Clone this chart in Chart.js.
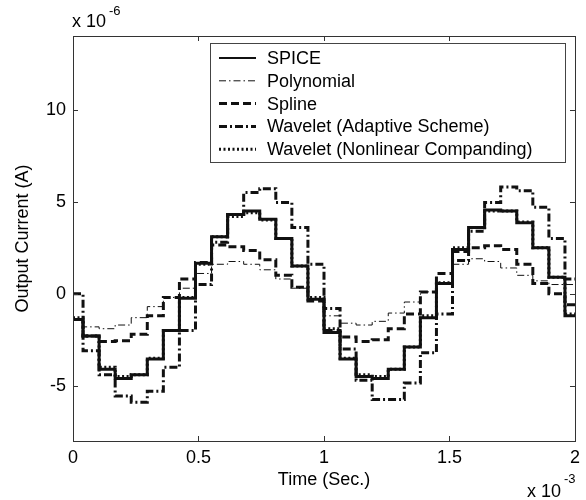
<!DOCTYPE html>
<html>
<head>
<meta charset="utf-8">
<script src="https://cdn.jsdelivr.net/npm/chart.js@4.4.0/dist/chart.umd.min.js"></script>
<style>
  html, body { margin: 0; padding: 0; background: #fff; }
  #wrap { width: 586px; height: 500px; }
</style>
</head>
<body>
<div id="wrap"><canvas id="chart" width="586" height="500"></canvas></div>
<script>
// start of every hold step, in units of 10^-3 s (last entry closes the plot at 2)
const stepTimes = [0, 0.04, 0.104, 0.168, 0.232, 0.296, 0.36, 0.424, 0.488, 0.552, 0.616,
  0.68, 0.744, 0.808, 0.872, 0.936, 1.0, 1.064, 1.128, 1.192, 1.256, 1.32, 1.384,
  1.448, 1.512, 1.576, 1.64, 1.704, 1.768, 1.832, 1.896, 1.96, 2.0];

// output current of each step, in units of 10^-6 A
const spiceVals = [-1.4, -2.3, -4.1, -4.6, -4.4, -3.55, -2.0, -0.25, 1.65, 3.1, 4.3, 4.5, 4.05, 3.0, 1.5, -0.3,
  -2.1, -3.55, -4.5, -4.6, -4.1, -2.9, -1.3, 0.55, 2.4, 3.6, 4.55, 4.5, 3.85, 2.5, 0.9, -1.2];
const polyVals = [-1.4, -1.8, -1.9, -1.7, -1.3, -0.7, -0.2, 0.3, 1.1, 1.6, 1.75, 1.6, 1.3, 0.8, 0.3, -0.3,
  -1.2, -1.6, -1.7, -1.5, -1.05, -0.45, 0.1, 0.6, 1.6, 1.9, 1.75, 1.4, 1.0, 0.7, 0.5, 0.5];
const splineVals = [-1.4, -2.3, -2.6, -2.55, -2.2, -1.2, -0.2, 0.8, 1.7, 2.65, 2.55, 2.35, 1.85, 1.0, 0.35, -0.4,
  -2.0, -2.35, -2.6, -2.5, -1.9, -1.1, 0.1, 1.1, 2.3, 2.5, 2.6, 2.4, 1.6, 0.55, 0.0, -0.6];
const adaptiveVals = [0, -3.1, -4.4, -5.55, -5.9, -5.3, -4.0, -2.0, 0.5, 2.8, 4.3, 5.5, 5.7, 4.95, 3.6, 1.6,
  -0.8, -3.0, -4.7, -5.75, -5.75, -4.85, -3.2, -1.1, 1.8, 3.4, 4.95, 5.8, 5.6, 4.7, 3.0, 0.8];
const companderVals = [-1.3, -2.3, -4.0, -4.5, -4.4, -3.5, -2.0, -0.2, 1.6, 3.1, 4.2, 4.4, 4.0, 3.0, 1.5, -0.2,
  -1.9, -3.5, -4.4, -4.5, -4.1, -2.9, -1.2, 0.6, 2.5, 3.6, 4.5, 4.5, 3.9, 2.5, 0.9, -1.1];

const seriesNames = ['SPICE', 'Polynomial', 'Spline', 'Wavelet (Adaptive Scheme)', 'Wavelet (Nonlinear Companding)'];
const xTicks = [0, 0.5, 1, 1.5, 2];
const yTicks = [-5, 0, 5, 10];

const FONT = 'Liberation Sans, Arial, Helvetica, sans-serif';
const INK = '#111';

// sample-and-hold: each value holds until the next step time
function toPoints(vals) {
  return stepTimes.map((t, i) => ({ x: t, y: vals[Math.min(i, vals.length - 1)] }));
}

const styles = [
  { borderWidth: 3, borderDash: [], order: 5 },
  { borderWidth: 1, borderDash: [7, 3, 1.5, 3], order: 4 },
  { borderWidth: 3, borderDash: [8, 4], order: 3 },
  { borderWidth: 3, borderDash: [8, 3, 2, 3], order: 2 },
  { borderWidth: 3, borderDash: [2, 2.5], order: 1 }
];
const allVals = [spiceVals, polyVals, splineVals, adaptiveVals, companderVals];

const datasets = allVals.map((vals, i) => ({
  label: seriesNames[i],
  data: toPoints(vals),
  borderColor: INK,
  borderWidth: styles[i].borderWidth,
  borderDash: styles[i].borderDash,
  order: styles[i].order,
  stepped: true,
  pointRadius: 0,
  fill: false
}));

// box round the axes with inward ticks on all four sides
const framePlugin = {
  id: 'frame',
  afterDatasetsDraw(chart) {
    const { ctx, chartArea: a, scales: { x, y } } = chart;
    ctx.save();
    ctx.strokeStyle = '#333';
    ctx.lineWidth = 1;
    ctx.strokeRect(a.left + 0.5, a.top + 0.5, a.right - a.left, a.bottom - a.top);
    ctx.beginPath();
    xTicks.forEach(v => {
      const px = Math.round(x.getPixelForValue(v)) + 0.5;
      ctx.moveTo(px, a.bottom); ctx.lineTo(px, a.bottom - 5);
      ctx.moveTo(px, a.top); ctx.lineTo(px, a.top + 5);
    });
    yTicks.forEach(v => {
      const py = Math.round(y.getPixelForValue(v)) + 0.5;
      ctx.moveTo(a.left, py); ctx.lineTo(a.left + 5, py);
      ctx.moveTo(a.right, py); ctx.lineTo(a.right - 5, py);
    });
    ctx.stroke();

    // exponent labels
    ctx.fillStyle = '#000';
    ctx.textBaseline = 'alphabetic';
    ctx.textAlign = 'left';
    ctx.font = '18px ' + FONT;
    ctx.fillText('x 10', 72, 27);
    ctx.fillText('x 10', 527, 497);
    ctx.font = '13px ' + FONT;
    ctx.fillText('-6', 109, 15);
    ctx.fillText('-3', 564, 483);
    ctx.restore();
  }
};

// legend box like the original: line sample then name
const legendPlugin = {
  id: 'boxLegend',
  afterDraw(chart) {
    const { ctx } = chart;
    const bx = 210, by = 43, bw = 355, bh = 119;
    ctx.save();
    ctx.fillStyle = '#fff';
    ctx.fillRect(bx, by, bw, bh);
    ctx.strokeStyle = '#444';
    ctx.lineWidth = 1;
    ctx.strokeRect(bx + 0.5, by + 0.5, bw, bh);
    ctx.font = '18px ' + FONT;
    ctx.textBaseline = 'middle';
    ctx.fillStyle = '#000';
    chart.data.datasets.forEach((ds, i) => {
      const ly = 58 + i * 22.8;
      ctx.beginPath();
      ctx.strokeStyle = INK;
      ctx.lineWidth = i === 0 ? 2 : ds.borderWidth;
      ctx.setLineDash(ds.borderDash);
      ctx.moveTo(219, ly);
      ctx.lineTo(256, ly);
      ctx.stroke();
      ctx.setLineDash([]);
      ctx.fillText(ds.label, 267, ly + 1);
    });
    ctx.restore();
  }
};

new Chart(document.getElementById('chart').getContext('2d'), {
  type: 'line',
  data: { datasets: datasets },
  options: {
    responsive: false,
    animation: false,
    layout: { padding: { top: 36, right: 10, left: 0, bottom: 0 } },
    plugins: { legend: { display: false }, tooltip: { enabled: false } },
    scales: {
      x: {
        type: 'linear', min: 0, max: 2,
        grid: { display: false, drawTicks: false }, border: { display: false },
        afterBuildTicks: s => { s.ticks = xTicks.map(v => ({ value: v })); },
        afterFit: s => { s.height = 59; },
        ticks: { color: '#000', padding: 6, maxRotation: 0, font: { family: FONT, size: 18 }, callback: v => String(v) },
        title: { display: true, text: 'Time (Sec.)', color: '#000', font: { family: FONT, size: 18 }, padding: { top: 0, bottom: 9 } }
      },
      y: {
        type: 'linear', min: -8, max: 14,
        grid: { display: false, drawTicks: false }, border: { display: false },
        afterBuildTicks: s => { s.ticks = yTicks.map(v => ({ value: v })); },
        afterFit: s => { s.width = 73; },
        ticks: { color: '#000', padding: 7, font: { family: FONT, size: 18 }, callback: v => String(v) },
        title: { display: true, text: 'Output Current (A)', color: '#000', font: { family: FONT, size: 18 }, padding: { top: 12, bottom: 0 } }
      }
    }
  },
  plugins: [framePlugin, legendPlugin]
});
</script>
</body>
</html>
